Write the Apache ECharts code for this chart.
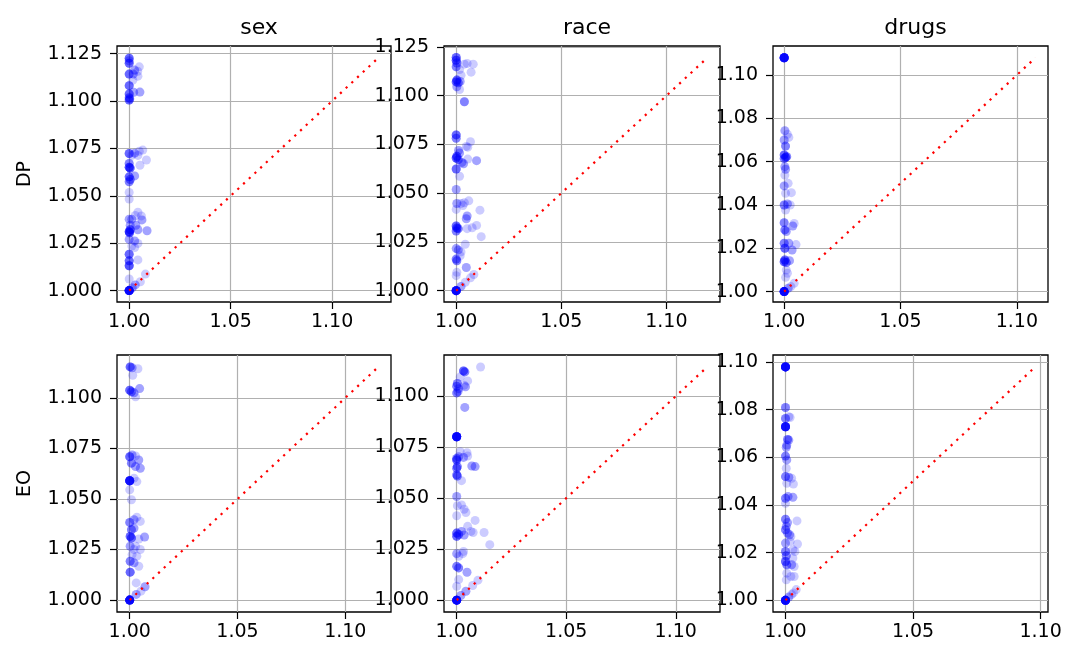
<!DOCTYPE html>
<html><head><meta charset="utf-8">
<script src="https://cdn.jsdelivr.net/npm/echarts@6/dist/echarts.min.js"></script>
<style>html,body{margin:0;padding:0;background:#fff}#c{width:1079px;height:663px}</style>
</head><body><div id="c"></div>
<script>
const columns = ['sex', 'race', 'drugs'];
const rows = ['DP', 'EO'];

// points: [x, y, count of overlapping runs]
const sexDP = [
 [1.0000,1.1226,4],[1.0000,1.1199,4],[1.0000,1.1212,2],
 [1.0027,1.1163,2],[1.0050,1.1180,1],[1.0042,1.1157,1],
 [1.0000,1.1142,4],[1.0020,1.1142,2],[1.0043,1.1131,1],[1.0018,1.1110,1],
 [1.0000,1.1081,4],[1.0000,1.1037,4],[1.0000,1.1017,3],[1.0000,1.1005,4],[1.0003,1.1012,2],
 [1.0022,1.1046,2],[1.0053,1.1047,2],
 [1.0000,1.0723,4],[1.0027,1.0725,2],[1.0050,1.0735,1],[1.0067,1.0741,1],
 [1.0013,1.0713,1],[1.0043,1.0713,1],[1.0085,1.0689,1],
 [1.0000,1.0671,3],[1.0000,1.0650,5],[1.0005,1.0646,4],[1.0053,1.0661,1],
 [1.0000,1.0600,4],[1.0027,1.0605,2],[1.0005,1.0586,3],[1.0000,1.0574,3],
 [1.0000,1.0518,1],[1.0000,1.0483,1],
 [1.0043,1.0413,1],[1.0030,1.0396,1],[1.0060,1.0394,1],[1.0000,1.0377,2],[1.0013,1.0377,2],[1.0063,1.0373,2],
 [1.0005,1.0345,2],[1.0033,1.0345,2],
 [1.0005,1.0321,4],[1.0000,1.0311,5],[1.0002,1.0305,4],[1.0043,1.0321,2],[1.0088,1.0316,2],
 [1.0000,1.0270,2],[1.0027,1.0262,2],[1.0043,1.0249,1],[1.0013,1.0235,1],[1.0027,1.0227,1],
 [1.0000,1.0192,4],[1.0000,1.0157,4],[1.0043,1.0162,1],[1.0000,1.0131,5],
 [1.0000,1.0061,1],
 [1.0000,1.0000,15],[1.0015,1.0015,2],[1.0030,1.0030,2],[1.0055,1.0047,1],[1.0080,1.0087,1]
];
const raceDP = [
 [1.0000,1.1196,4],[1.0000,1.1182,4],[1.0003,1.1168,3],[1.0000,1.1148,3],
 [1.0039,1.1162,1],[1.0052,1.1165,1],[1.0081,1.1162,1],
 [1.0016,1.1134,1],[1.0071,1.1121,1],[1.0023,1.1105,1],
 [1.0003,1.1080,4],[1.0000,1.1071,4],[1.0010,1.1066,3],[1.0019,1.1073,2],
 [1.0003,1.1046,2],[1.0016,1.1032,1],
 [1.0039,1.0969,3],
 [1.0000,1.0799,4],[1.0000,1.0782,3],
 [1.0048,1.0740,1],[1.0068,1.0764,1],[1.0055,1.0736,1],
 [1.0011,1.0719,2],[1.0016,1.0706,2],
 [1.0003,1.0689,4],[1.0000,1.0680,4],[1.0010,1.0672,3],
 [1.0055,1.0675,1],[1.0097,1.0667,2],
 [1.0027,1.0658,2],[1.0035,1.0651,2],
 [1.0000,1.0624,4],[1.0016,1.0587,1],
 [1.0000,1.0519,2],
 [1.0003,1.0447,2],[1.0023,1.0447,1],[1.0039,1.0451,1],[1.0060,1.0461,1],
 [1.0000,1.0417,1],[1.0032,1.0437,1],
 [1.0113,1.0413,1],
 [1.0052,1.0383,2],[1.0048,1.0369,2],
 [1.0000,1.0332,4],[1.0003,1.0321,4],[1.0000,1.0306,3],[1.0010,1.0318,3],
 [1.0052,1.0318,1],[1.0076,1.0323,1],[1.0097,1.0335,1],
 [1.0119,1.0277,1],
 [1.0000,1.0216,2],[1.0010,1.0209,2],[1.0023,1.0199,1],[1.0043,1.0238,1],
 [1.0000,1.0162,3],[1.0003,1.0153,3],[1.0019,1.0179,1],
 [1.0048,1.0119,2],
 [1.0003,1.0094,1],[1.0000,1.0077,1],
 [1.0000,1.0000,15],[1.0023,1.0022,2],[1.0043,1.0043,1],[1.0068,1.0066,1],[1.0084,1.0083,1]
];
const drugsDP = [
 [1.0000,1.1080,15],
 [1.0003,1.0743,2],[1.0014,1.0726,1],[1.0020,1.0712,1],
 [1.0000,1.0700,2],[1.0006,1.0672,3],
 [1.0000,1.0631,4],[1.0006,1.0620,4],[1.0011,1.0623,3],[1.0000,1.0614,3],
 [1.0003,1.0577,2],[1.0006,1.0565,2],
 [1.0003,1.0538,1],
 [1.0000,1.0488,2],[1.0017,1.0500,1],[1.0006,1.0454,1],[1.0031,1.0457,1],
 [1.0000,1.0400,3],[1.0014,1.0405,2],[1.0026,1.0400,1],[1.0006,1.0377,1],
 [1.0000,1.0318,3],[1.0003,1.0285,3],[1.0009,1.0277,2],[1.0037,1.0303,2],[1.0043,1.0315,1],
 [1.0000,1.0223,3],[1.0003,1.0200,4],[1.0020,1.0223,2],[1.0051,1.0217,1],
 [1.0034,1.0192,2],[1.0003,1.0146,4],[1.0000,1.0138,4],[1.0009,1.0134,3],[1.0023,1.0143,2],
 [1.0009,1.0100,1],[1.0014,1.0085,1],[1.0006,1.0066,1],
 [1.0000,1.0000,15],[1.0017,1.0015,2],[1.0029,1.0023,1],[1.0043,1.0038,1]
];
const sexEO = [
 [1.0002,1.1153,4],[1.0011,1.1149,2],[1.0038,1.1144,1],[1.0014,1.1112,1],
 [1.0000,1.1038,4],[1.0008,1.1030,3],[1.0020,1.1025,2],[1.0046,1.1046,2],[1.0027,1.1005,1],
 [1.0000,1.0709,4],[1.0011,1.0718,2],[1.0027,1.0713,1],[1.0042,1.0693,2],
 [1.0008,1.0677,3],[1.0027,1.0660,2],[1.0049,1.0652,2],
 [1.0000,1.0590,12],
 [1.0020,1.0603,1],[1.0033,1.0586,1],
 [1.0000,1.0545,1],[1.0008,1.0496,1],
 [1.0000,1.0384,3],[1.0020,1.0397,2],[1.0033,1.0410,1],[1.0049,1.0389,1],
 [1.0008,1.0348,3],[1.0020,1.0356,2],[1.0002,1.0315,4],[1.0008,1.0307,4],
 [1.0042,1.0302,1],[1.0069,1.0312,2],[1.0027,1.0266,1],[1.0002,1.0266,2],
 [1.0020,1.0250,1],[1.0049,1.0250,1],[1.0011,1.0225,1],[1.0033,1.0217,1],
 [1.0002,1.0192,3],[1.0020,1.0184,2],[1.0042,1.0167,1],[1.0002,1.0138,4],
 [1.0030,1.0085,1],[1.0071,1.0066,2],
 [1.0000,1.0000,15],[1.0030,1.0028,2],[1.0052,1.0044,1]
];
const raceEO = [
 [1.0031,1.1124,4],[1.0037,1.1119,3],[1.0109,1.1143,1],
 [1.0016,1.1094,1],[1.0050,1.1075,1],
 [1.0003,1.1062,3],[1.0000,1.1049,3],[1.0009,1.1037,2],[1.0040,1.1046,2],[1.0034,1.1054,1],
 [1.0000,1.1016,3],[1.0006,1.1023,2],
 [1.0037,1.0945,2],
 [1.0000,1.0801,15],
 [1.0016,1.0728,1],[1.0050,1.0707,1],[1.0047,1.0723,1],
 [1.0000,1.0695,3],[1.0000,1.0687,4],
 [1.0009,1.0703,2],[1.0031,1.0700,2],
 [1.0003,1.0655,3],[1.0000,1.0647,3],
 [1.0069,1.0658,2],[1.0084,1.0655,2],
 [1.0000,1.0614,3],[1.0003,1.0609,3],
 [1.0022,1.0586,1],
 [1.0000,1.0508,2],
 [1.0003,1.0463,1],[1.0022,1.0467,1],[1.0034,1.0446,1],[1.0042,1.0430,1],
 [1.0084,1.0391,1],[1.0000,1.0414,1],
 [1.0050,1.0362,1],[1.0065,1.0337,1],
 [1.0000,1.0329,4],[1.0000,1.0313,4],[1.0009,1.0322,3],[1.0034,1.0319,2],[1.0022,1.0337,2],
 [1.0075,1.0332,1],[1.0125,1.0332,1],
 [1.0151,1.0272,1],
 [1.0000,1.0228,2],[1.0028,1.0228,1],[1.0031,1.0239,1],[1.0009,1.0215,1],
 [1.0000,1.0166,3],[1.0009,1.0158,3],[1.0047,1.0137,2],
 [1.0009,1.0101,1],[1.0000,1.0068,1],
 [1.0000,1.0000,15],[1.0019,1.0023,2],[1.0042,1.0044,2],[1.0073,1.0072,1],[1.0097,1.0098,1]
];
const drugsEO = [
 [1.0000,1.0979,15],
 [1.0000,1.0809,3],
 [1.0000,1.0763,3],[1.0013,1.0770,1],[1.0018,1.0767,1],
 [1.0000,1.0728,12],
 [1.0008,1.0675,3],[1.0013,1.0672,2],[1.0005,1.0651,2],[1.0003,1.0642,2],
 [1.0000,1.0605,3],[1.0005,1.0589,2],[1.0003,1.0554,1],
 [1.0000,1.0519,3],[1.0013,1.0516,2],[1.0024,1.0512,1],[1.0005,1.0491,1],[1.0031,1.0488,1],
 [1.0000,1.0428,3],[1.0010,1.0435,2],[1.0029,1.0432,2],
 [1.0000,1.0407,1],
 [1.0000,1.0340,3],[1.0008,1.0326,2],[1.0045,1.0333,1],[1.0003,1.0310,2],
 [1.0000,1.0296,3],[1.0008,1.0282,2],[1.0016,1.0275,2],[1.0021,1.0268,1],
 [1.0000,1.0240,2],[1.0018,1.0247,1],[1.0047,1.0236,1],[1.0029,1.0212,1],[1.0037,1.0205,1],
 [1.0000,1.0205,3],[1.0003,1.0187,3],
 [1.0000,1.0163,4],[1.0005,1.0149,3],[1.0024,1.0149,2],[1.0029,1.0177,1],[1.0034,1.0142,1],
 [1.0003,1.0086,1],[1.0005,1.0114,1],[1.0021,1.0100,1],[1.0034,1.0100,1],
 [1.0000,1.0000,15],[1.0013,1.0014,2],[1.0024,1.0024,1],[1.0031,1.0031,1],[1.0042,1.0045,1]
];
const panelData = [[sexDP, raceDP, drugsDP], [sexEO, raceEO, drugsEO]];

// diagonal reference y = x ends
const diagStart = 1.0;
const diagEndDP = [1.1229, 1.1195, 1.1080];
const diagEndEO = [1.1154, 1.1145, 1.0979];
const diagEnd = [diagEndDP, diagEndEO];

// tick labels
const xTicks = [1.00, 1.05, 1.10];
const yTicks25 = [1.000, 1.025, 1.050, 1.075, 1.100, 1.125];
const yTicks25b = [1.000, 1.025, 1.050, 1.075, 1.100];
const yTicks02 = [1.00, 1.02, 1.04, 1.06, 1.08, 1.10];
const yTickSets = [[yTicks25, yTicks25, yTicks02], [yTicks25b, yTicks25b, yTicks02]];
const yDecimals = [[3, 3, 2], [3, 3, 2]];

// axis limits (same for x and y in each panel)
const limits = [
  [[0.9940, 1.1290], [0.9942, 1.1255], [0.9952, 1.1134]],
  [[0.9941, 1.1212], [0.9942, 1.1202], [0.9951, 1.1029]]
];

const FONT = 'DejaVu Sans';
const colLeft = [117, 444, 773];
const colWidth = [274, 276, 275];
const rowTop = [46, 355];
const rowHeight = [256, 257];

const grids = [], xAxes = [], yAxes = [], series = [], titles = [];
let k = 0;
for (let r = 0; r < 2; r++) {
  for (let c = 0; c < 3; c++) {
    grids.push({left: colLeft[c], top: rowTop[r], width: colWidth[c], height: rowHeight[r],
      show: true, borderColor: '#000', borderWidth: 1.3, backgroundColor: 'transparent'});
    const lim = limits[r][c];
    const axisCommon = {
      gridIndex: k, type: 'value', min: lim[0], max: lim[1],
      axisLine: {show: false},
      axisTick: {show: true, length: 7, lineStyle: {color: '#000', width: 1.2}},
      splitLine: {show: true, lineStyle: {color: '#b0b0b0', width: 1.2}}
    };
    xAxes.push(Object.assign({}, axisCommon, {
      axisTick: Object.assign({}, axisCommon.axisTick, {customValues: xTicks}),
      axisLabel: {customValues: xTicks, margin: 11, fontSize: 19, color: '#000', fontFamily: FONT,
        formatter: v => v.toFixed(2)}
    }));
    const yt = yTickSets[r][c], dec = yDecimals[r][c];
    const ya = Object.assign({}, axisCommon, {
      axisTick: Object.assign({}, axisCommon.axisTick, {customValues: yt}),
      axisLabel: {customValues: yt, margin: 15, fontSize: 19, color: '#000', fontFamily: FONT,
        formatter: v => v.toFixed(dec)}
    });
    if (c === 0) {
      Object.assign(ya, {name: rows[r], nameLocation: 'middle', nameGap: 82, nameRotate: 90,
        nameTextStyle: {fontSize: 19, color: '#000', fontFamily: FONT}});
    }
    yAxes.push(ya);
    const pts = [];
    panelData[r][c].forEach(p => { for (let i = 0; i < p[2]; i++) pts.push([p[0], p[1]]); });
    series.push({type: 'scatter', xAxisIndex: k, yAxisIndex: k, data: pts, symbolSize: 9,
      itemStyle: {color: '#0000ff', opacity: 0.2}, silent: true, z: 2});
    const m = diagEnd[r][c];
    series.push({type: 'line', xAxisIndex: k, yAxisIndex: k, data: [[diagStart, diagStart], [m, m]],
      showSymbol: false, silent: true, z: 3,
      lineStyle: {color: '#ff0000', width: 2.2, type: [2.2, 5.6], cap: 'butt'}});
    k++;
  }
}
for (let c = 0; c < 3; c++) {
  titles.push({text: columns[c], left: colLeft[c] + colWidth[c] / 2, top: 12, textAlign: 'center',
    textStyle: {fontSize: 22, fontWeight: 'normal', color: '#000', fontFamily: FONT}});
}

const chart = echarts.init(document.getElementById('c'), null, {renderer: 'canvas'});
chart.setOption({animation: false, backgroundColor: '#fff', title: titles,
  grid: grids, xAxis: xAxes, yAxis: yAxes, series: series});
</script></body></html>
